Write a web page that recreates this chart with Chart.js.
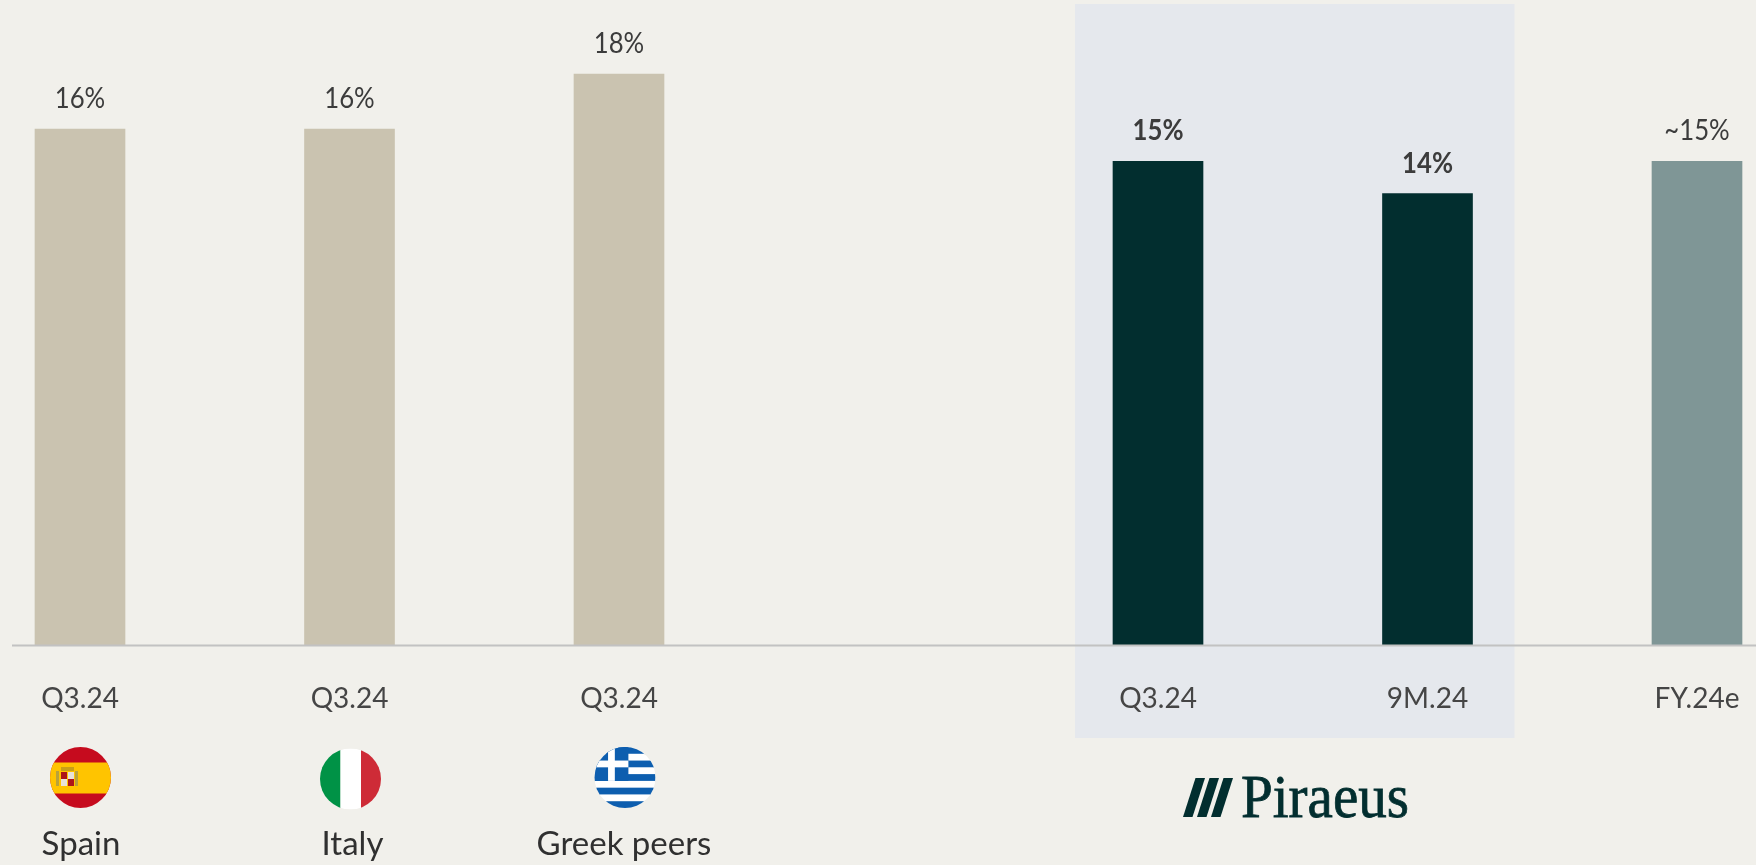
<!DOCTYPE html>
<html>
<head>
<meta charset="utf-8">
<title>Cost of risk comparison</title>
<script src="https://cdn.jsdelivr.net/npm/chart.js@4"></script>
<style>
    html, body { margin: 0; padding: 0; background: #f1f0eb; overflow: hidden; }
    canvas { display: block; }
</style>
</head>
<body>
<canvas id="chart" width="1756" height="865"></canvas>
<script>
// Chart data
const categories = ['Q3.24', 'Q3.24', 'Q3.24', '', 'Q3.24', '9M.24', 'FY.24e'];
const values = [16, 16, 17.7, null, 15, 14, 15];
const valueLabels = ['16%', '16%', '18%', '', '15%', '14%', '~15%'];
const boldLabels = [false, false, false, false, true, true, false];
const barColors = ['#cac3b0', '#cac3b0', '#cac3b0', '#cac3b0', '#022e2f', '#022e2f', '#7f9696'];
const countries = ['Spain', 'Italy', 'Greek peers'];
const brandName = 'Piraeus';

const FONT = 'Lato, "Noto Sans", sans-serif';

// Shaded box behind the two Piraeus bars, has to go under the tick labels too
const bandPlugin = {
    id: 'band',
    beforeDraw(chart) {
        const x = chart.scales.x;
        const ctx = chart.ctx;
        const left = x.getPixelForValue(4) - 83;
        const right = x.getPixelForValue(5) + 87;
        ctx.save();
        ctx.fillStyle = '#e5e8ed';
        ctx.fillRect(left, 4, right - left, 734);
        ctx.restore();
    }
};

// Clip to a circle, run the painter, restore
function drawFlag(ctx, cx, cy, paint) {
    const r = 30.5;
    ctx.save();
    ctx.beginPath();
    ctx.arc(cx, cy, r, 0, Math.PI * 2);
    ctx.clip();
    ctx.translate(cx - r, cy - r);
    paint(ctx, r * 2);
    ctx.restore();
}

function paintSpain(ctx, d) {
    ctx.fillStyle = '#c60b1e';
    ctx.fillRect(0, 0, d, d);
    ctx.fillStyle = '#ffc400';
    ctx.fillRect(0, 15.5, d, 31);
    // coat of arms, only a rough shape at this size
    ctx.fillStyle = '#b9a23a';
    ctx.fillRect(6, 24, 3, 15);
    ctx.fillRect(25, 24, 3, 15);
    ctx.fillStyle = '#c9a017';
    ctx.fillRect(11, 20, 13, 4);
    ctx.fillStyle = '#ad1519';
    ctx.fillRect(11, 25, 6, 7);
    ctx.fillRect(18, 32, 6, 7);
    ctx.fillStyle = '#e8e2d8';
    ctx.fillRect(18, 25, 6, 7);
    ctx.fillRect(11, 32, 6, 7);
}

function paintItaly(ctx, d) {
    ctx.fillStyle = '#009246';
    ctx.fillRect(0, 0, 20.5, d);
    ctx.fillStyle = '#ffffff';
    ctx.fillRect(20.5, 0, 20.5, d);
    ctx.fillStyle = '#ce2b37';
    ctx.fillRect(41, 0, d - 41, d);
}

function paintGreece(ctx, d) {
    const stripe = d / 9;
    for (let i = 0; i < 9; i++) {
        ctx.fillStyle = i % 2 === 0 ? '#0d5eaf' : '#ffffff';
        ctx.fillRect(0, i * stripe, d, stripe + 0.5);
    }
    const canton = stripe * 5;
    ctx.fillStyle = '#0d5eaf';
    ctx.fillRect(0, 0, canton, canton);
    ctx.fillStyle = '#ffffff';
    ctx.fillRect(canton / 2 - stripe / 2, 0, stripe, canton);
    ctx.fillRect(0, canton / 2 - stripe / 2, canton, stripe);
}

// Axis line, value labels, flags, country names and the brand mark
const decorPlugin = {
    id: 'decor',
    afterDatasetsDraw(chart) {
        const ctx = chart.ctx;
        const x = chart.scales.x;
        const base = chart.scales.y.getPixelForValue(0);
        const bars = chart.getDatasetMeta(0).data;

        ctx.save();
        ctx.fillStyle = '#c2c2c2';
        ctx.fillRect(12, base - 0.5, 1744, 2);

        ctx.textAlign = 'center';
        ctx.textBaseline = 'alphabetic';
        ctx.fillStyle = '#3c3c3c';
        valueLabels.forEach((text, i) => {
            if (!text) return;
            ctx.font = (boldLabels[i] ? 'bold ' : '') + '28px ' + FONT;
            // the source font is narrower than Lato
            ctx.fillText(text, bars[i].x, bars[i].y - 21, ctx.measureText(text).width * 0.92);
        });

        drawFlag(ctx, x.getPixelForValue(0) + 0.5, 777.5, paintSpain);
        drawFlag(ctx, x.getPixelForValue(1) + 1, 779, paintItaly);
        drawFlag(ctx, x.getPixelForValue(2) + 6, 777.5, paintGreece);

        ctx.font = '33px ' + FONT;
        ctx.fillStyle = '#303030';
        countries.forEach((name, i) => {
            const nudge = [1, 3, 5][i];
            ctx.fillText(name, x.getPixelForValue(i) + nudge, 855);
        });

        // brand mark: three slashes and the name
        ctx.fillStyle = '#022e2f';
        ctx.strokeStyle = '#022e2f';
        [1183, 1197, 1211].forEach((sx) => {
            ctx.beginPath();
            ctx.moveTo(sx, 817);
            ctx.lineTo(sx + 9.5, 817);
            ctx.lineTo(sx + 22, 778);
            ctx.lineTo(sx + 12.5, 778);
            ctx.closePath();
            ctx.fill();
        });
        ctx.textAlign = 'left';
        ctx.font = '62px "Liberation Serif", serif';
        ctx.lineWidth = 0.8;
        ctx.fillText(brandName, 1241, 816.5, 168);
        ctx.strokeText(brandName, 1241, 816.5, 168);
        ctx.restore();
    }
};

new Chart(document.getElementById('chart'), {
    type: 'bar',
    data: {
        labels: categories,
        datasets: [{
            data: values,
            backgroundColor: barColors,
            barThickness: 90,
            borderWidth: 0,
            clip: false
        }]
    },
    options: {
        responsive: false,
        animation: false,
        events: [],
        layout: { padding: { left: 80, right: 59, top: 0, bottom: 0 } },
        plugins: {
            legend: { display: false },
            tooltip: { enabled: false }
        },
        scales: {
            x: {
                offset: false,
                grid: { display: false },
                border: { display: false },
                afterFit(scale) {
                    // keep the plot height fixed, and stop tick padding eating the side margins
                    scale.height = 220;
                    scale.paddingLeft = 0;
                    scale.paddingRight = 0;
                },
                ticks: {
                    autoSkip: false,
                    maxRotation: 0,
                    padding: 29,
                    color: '#454545',
                    font: { family: FONT, size: 28 }
                }
            },
            y: {
                display: false,
                min: 0,
                max: 20
            }
        }
    },
    plugins: [bandPlugin, decorPlugin]
});
</script>
</body>
</html>
